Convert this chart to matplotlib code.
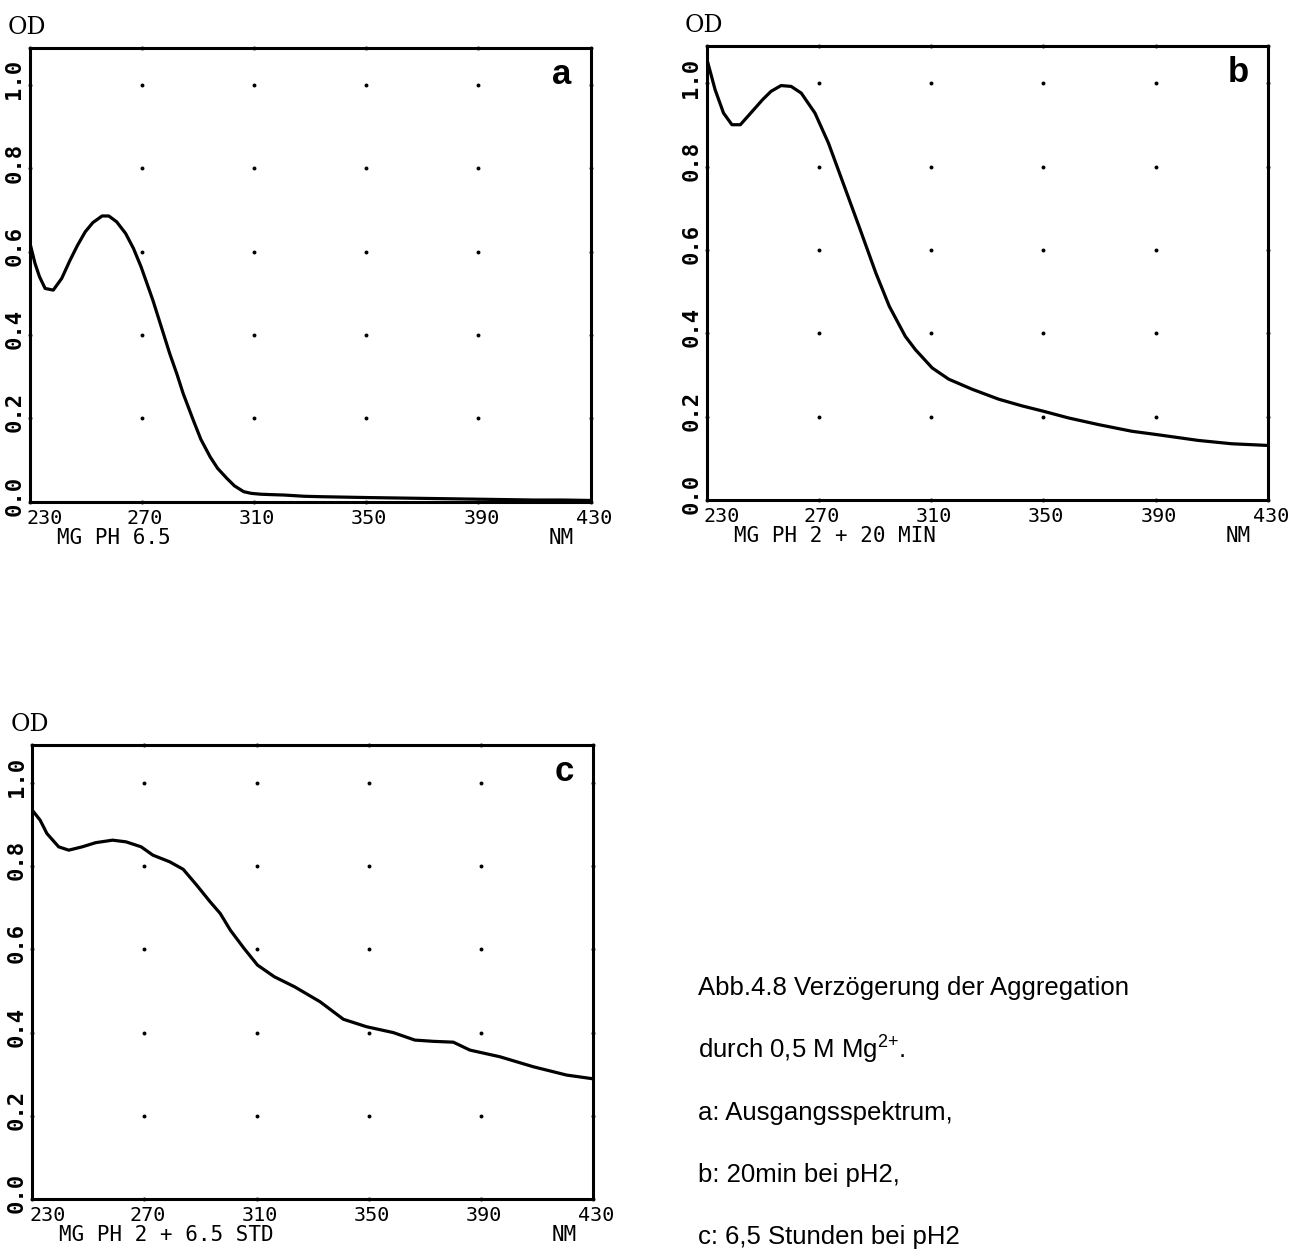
import matplotlib
matplotlib.use("Agg")
import matplotlib.pyplot as plt
from matplotlib.transforms import ScaledTranslation

# ---------------- data ----------------
x_ticks = [230, 270, 310, 350, 390, 430]
y_ticks = [0.0, 0.2, 0.4, 0.6, 0.8, 1.0]
y_ticklabels = ["0.0", "0.2", "0.4", "0.6", "0.8", "1.0"]

wl_a = [230, 231.9, 233.5, 235.5, 238.4, 241.4, 244.4, 247, 249.8, 252.5, 255.8, 258.2,
        261, 264.2, 267, 269.7, 273.9, 277, 279.9, 282.5, 284.7, 288.3, 291, 294.3, 297,
        300.3, 303, 306.3, 309, 312.3, 316, 320.7, 328, 334, 342, 350, 360, 370, 380,
        390, 400, 410, 420, 430]
od_a = [0.623, 0.572, 0.540, 0.512, 0.508, 0.536, 0.580, 0.615, 0.648, 0.670, 0.686, 0.686,
        0.672, 0.644, 0.608, 0.564, 0.484, 0.418, 0.356, 0.306, 0.260, 0.196, 0.150, 0.108,
        0.080, 0.056, 0.038, 0.024, 0.020, 0.018, 0.017, 0.016, 0.013, 0.012, 0.011, 0.010,
        0.009, 0.008, 0.007, 0.006, 0.005, 0.004, 0.004, 0.003]

wl_b = [230, 233, 236, 239, 242, 245.7, 249.9, 252.9, 256.5, 260.1, 263.7, 268.6, 273.4,
        278.2, 284.3, 290.3, 295.1, 300.8, 304.4, 310.4, 316.3, 324.6, 334.1, 342.4, 350.1,
        359, 369.7, 381.6, 390.5, 405.3, 417.2, 430]
od_b = [1.06, 0.985, 0.929, 0.901, 0.901, 0.929, 0.961, 0.981, 0.995, 0.993, 0.977, 0.929,
        0.857, 0.769, 0.657, 0.545, 0.465, 0.393, 0.361, 0.317, 0.290, 0.266, 0.242, 0.226,
        0.213, 0.197, 0.181, 0.165, 0.157, 0.143, 0.135, 0.131]

wl_c = [230, 232.8, 235.2, 239.4, 243, 247.8, 252.6, 258.6, 263.4, 268.8, 273, 279, 283.8,
        288.6, 293.4, 297, 300.6, 305.5, 310.3, 316.3, 323.5, 332.6, 340.9, 349.2, 358.7,
        366.4, 373, 380.1, 386, 396.7, 408.6, 420.5, 430]
od_c = [0.934, 0.910, 0.878, 0.846, 0.838, 0.846, 0.856, 0.862, 0.858, 0.846, 0.826, 0.810,
        0.792, 0.754, 0.714, 0.686, 0.646, 0.602, 0.562, 0.534, 0.510, 0.474, 0.432, 0.414,
        0.400, 0.382, 0.379, 0.377, 0.358, 0.342, 0.318, 0.298, 0.289]

panels = [
    dict(letter="a", sub="MG PH 6.5", wl=wl_a, od=od_a, px=(29.7, 501.7)),
    dict(letter="b", sub="MG PH 2 + 20 MIN", wl=wl_b, od=od_b, px=(706.7, 500.0)),
    dict(letter="c", sub="MG PH 2 + 6.5 STD", wl=wl_c, od=od_c, px=(32.3, 1199.2)),
]

caption = ["Abb.4.8 Verzögerung der Aggregation",
           "durch 0,5 M Mg$^{\\mathregular{2{+}}}$.",
           "a: Ausgangsspektrum,",
           "b: 20min bei pH2,",
           "c: 6,5 Stunden bei pH2"]

# ---------------- layout ----------------
W, H = 1308, 1252
DPI = 100
AX_W, AX_H = 561, 454
YMAX = 1.09
MONO = "DejaVu Sans Mono"

fig = plt.figure(figsize=(W / DPI, H / DPI), dpi=DPI)
fig.patch.set_facecolor("white")

def px2fig(x, y):
    return x / W, 1 - y / H

for p in panels:
    left, bottom = p["px"]
    ax = fig.add_axes([left / W, (H - bottom) / H, AX_W / W, AX_H / H])
    ax.set_xlim(230, 430)
    ax.set_ylim(0, YMAX)
    for s in ax.spines.values():
        s.set_linewidth(2.2)
        s.set_color("black")
    ax.plot(p["wl"], p["od"], color="black", lw=2.3, solid_joinstyle="round")

    # grid dots
    xs = [x for x in x_ticks for y in y_ticks]
    ys = [y for x in x_ticks for y in y_ticks]
    ax.scatter(xs, ys, s=8, color="black", zorder=3, clip_on=False, linewidths=0)
    ax.scatter(x_ticks, [YMAX] * len(x_ticks), s=8, color="black", zorder=3, clip_on=False,
               linewidths=0)

    ax.set_xticks(x_ticks)
    ax.set_xticklabels([str(v) for v in x_ticks], fontfamily=MONO, fontsize=14.5)
    ax.set_yticks(y_ticks)
    ax.set_yticklabels(y_ticklabels, fontfamily=MONO, fontsize=16, fontweight="bold",
                       rotation=90, va="center")
    ax.tick_params(axis="x", length=0, pad=5)
    ax.tick_params(axis="y", length=0, pad=4)
    for i, lab in enumerate(ax.get_xticklabels()):
        if i == 0:
            lab.set_ha("left")
            lab.set_transform(lab.get_transform() + ScaledTranslation(-0.03, 0, fig.dpi_scale_trans))
        else:
            lab.set_transform(lab.get_transform() + ScaledTranslation(0.03, 0, fig.dpi_scale_trans))
    for lab in ax.get_yticklabels():
        lab.set_transform(lab.get_transform() + ScaledTranslation(0, 0.06, fig.dpi_scale_trans))

    # panel letter
    ax.text(0.948, 0.942, p["letter"], transform=ax.transAxes, ha="center", va="center",
            fontsize=25, fontweight="bold", fontfamily="Liberation Sans")

    # subtitle & unit
    fx, fy = px2fig(left + 27, bottom + 26)
    fig.text(fx, fy, p["sub"], fontfamily=MONO, fontsize=15, ha="left", va="top")
    fx, fy = px2fig(left + 0.948 * AX_W, bottom + 26)
    fig.text(fx, fy, "NM", fontfamily=MONO, fontsize=15, ha="center", va="top")

    # OD label
    fx, fy = px2fig(left - 22, bottom - AX_H - 14)
    fig.text(fx, fy, "OD", fontfamily="DejaVu Serif", fontsize=17, ha="left", va="baseline")

# caption
for i, line in enumerate(caption):
    fx, fy = px2fig(698, 995 + i * 62.3)
    fig.text(fx, fy, line, fontfamily="Liberation Sans", fontsize=18.5, ha="left",
             va="baseline")

fig.savefig("out.png", dpi=DPI, facecolor="white")
